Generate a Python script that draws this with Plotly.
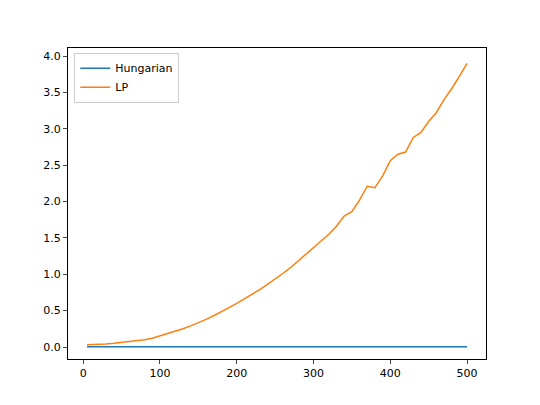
import plotly.graph_objects as go

sizes = [5, 10, 20, 30, 40, 50, 60, 70, 80, 90, 100, 110, 120, 130, 140, 150, 160, 170, 180, 190,
         200, 210, 220, 230, 240, 250, 260, 270, 280, 290, 300, 310, 320, 330, 340, 350, 360, 370,
         380, 390, 400, 410, 420, 430, 440, 450, 460, 470, 480, 490, 500]
lp = [0.03, 0.03, 0.035, 0.04, 0.05, 0.06, 0.07, 0.08, 0.10, 0.12, 0.15, 0.18, 0.21, 0.25, 0.29, 0.33,
      0.38, 0.43, 0.48, 0.54, 0.60, 0.66, 0.72, 0.79, 0.86, 0.93, 1.01, 1.09, 1.18, 1.28, 1.36, 1.45,
      1.55, 1.66, 1.80, 1.86, 2.02, 2.21, 2.19, 2.35, 2.56, 2.65, 2.68, 2.88, 2.95, 3.10, 3.22, 3.40,
      3.55, 3.72, 3.90]
hungarian = [0.002] * 11 + [0.003] * 20 + [0.005] * 20

fig = go.Figure()
fig.add_trace(go.Scatter(x=sizes, y=hungarian, mode="lines", name="Hungarian",
                         line=dict(color="#1f77b4", width=1.5)))
fig.add_trace(go.Scatter(x=sizes, y=lp, mode="lines", name="LP",
                         line=dict(color="#ff7f0e", width=1.5)))

axis = dict(showline=True, linecolor="black", linewidth=1, mirror=True, ticks="outside",
            ticklen=4, showgrid=False, zeroline=False, tickfont=dict(size=11, color="black"))
fig.update_layout(
    width=540, height=405, plot_bgcolor="white", paper_bgcolor="white",
    margin=dict(l=60, r=62, t=40, b=54),
    font=dict(family="DejaVu Sans"),
    xaxis=dict(axis, range=[-19.75, 524.75], tickvals=[0, 100, 200, 300, 400, 500]),
    yaxis=dict(axis, range=[-0.165, 4.11], tickvals=[0, 0.5, 1, 1.5, 2, 2.5, 3, 3.5, 4],
               ticktext=["0.0", "0.5", "1.0", "1.5", "2.0", "2.5", "3.0", "3.5", "4.0"]),
    legend=dict(x=0.015, y=0.985, xanchor="left", yanchor="top", bordercolor="#cccccc",
                borderwidth=1, font=dict(size=11, color="black")),
)
fig.write_html("out.html")
